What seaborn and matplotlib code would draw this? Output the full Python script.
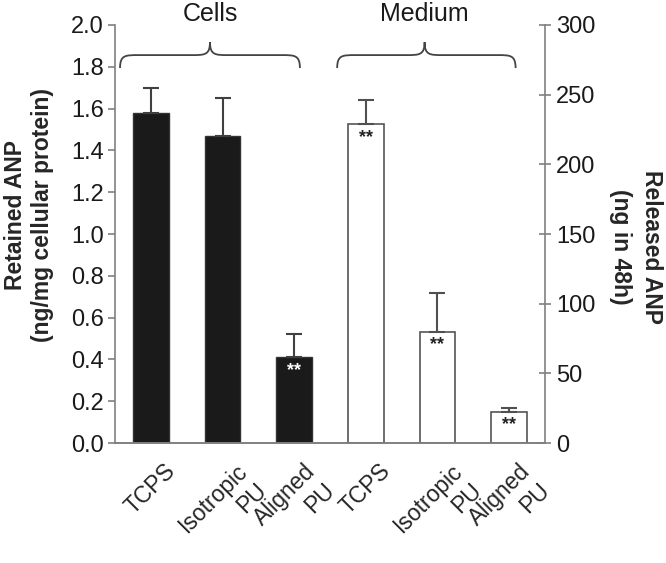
import numpy as np
import pandas as pd
import matplotlib
matplotlib.use("Agg")
import matplotlib.pyplot as plt
import matplotlib.transforms as mtransforms
from matplotlib.path import Path
from matplotlib.patches import PathPatch
import seaborn as sns

# data
keys = ["c_tcps", "c_iso", "c_ali", "m_tcps", "m_iso", "m_ali"]
tick_labels = ["TCPS", "Isotropic\nPU", "Aligned\nPU", "TCPS", "Isotropic\nPU", "Aligned\nPU"]
cells_keys = keys[:3]
cells_vals = [1.58, 1.47, 0.41]
cells_err = [0.12, 0.18, 0.11]
cells_sig = ["", "", "**"]
medium_keys = keys[3:]
medium_vals = [229, 80, 22.5]
medium_err = [17, 28, 2.5]
medium_sig = ["**", "**", "**"]

sns.set_style("white")
plt.rcParams["font.family"] = ["Liberation Sans", "DejaVu Sans"]

fig = plt.figure(figsize=(6.66, 5.63), dpi=100)
ax = fig.add_axes([0.1727, 0.2131, 0.6456, 0.7425])
ax2 = ax.twinx()

dfc = pd.DataFrame({"key": cells_keys, "val": cells_vals})
dfm = pd.DataFrame({"key": medium_keys, "val": medium_vals})

sns.barplot(data=dfc, x="key", y="val", order=keys, color="#1a1a1a",
            saturation=1, width=0.5, errorbar=None, edgecolor="#333333",
            linewidth=1.0, ax=ax)
sns.barplot(data=dfm, x="key", y="val", order=keys, color="white",
            saturation=1, width=0.5, errorbar=None, edgecolor="#555555",
            linewidth=1.2, ax=ax2)

xc = np.array([keys.index(k) for k in cells_keys])
xm = np.array([keys.index(k) for k in medium_keys])
ax.errorbar(xc, cells_vals, yerr=[np.zeros(3), cells_err], fmt="none",
            ecolor="#404040", elinewidth=1.5, capsize=6, capthick=1.5, zorder=1)
ax2.errorbar(xm, medium_vals, yerr=[np.zeros(3), medium_err], fmt="none",
             ecolor="#505050", elinewidth=1.5, capsize=6, capthick=1.5, zorder=1)

for x, v, s in zip(xc, cells_vals, cells_sig):
    if s:
        ax.text(x, v - 0.025, s, ha="center", va="top", color="white",
                fontsize=13, fontweight="bold")
for x, v, s in zip(xm, medium_vals, medium_sig):
    if s:
        ax2.text(x, v - 3.5, s, ha="center", va="top", color="#222222",
                 fontsize=13, fontweight="bold")

ax.set_xlim(-0.5, 5.5)
ax2.set_xlim(-0.5, 5.5)
ax.set_ylim(0, 2.0)
ax2.set_ylim(0, 300)
ax.set_yticks(np.arange(0, 2.01, 0.2))
ax.set_yticklabels([f"{v:.1f}" for v in np.arange(0, 2.01, 0.2)])
ax2.set_yticks(np.arange(0, 301, 50))

ax.set_xticks(range(6))
ax.set_xticklabels(tick_labels, rotation=45, ha="center", va="top",
                   multialignment="right", fontsize=16.5)
ax.set_xticks(np.arange(-0.5, 6, 1), minor=True)
ax.tick_params(axis="x", which="major", length=0, pad=12)
ax.tick_params(axis="x", which="minor", length=5, width=1.2, color="#808080",
               direction="out")
ax.tick_params(axis="y", labelsize=17, length=5, width=1.2, color="#808080",
               direction="out", left=True, pad=3, labelcolor="#1a1a1a")
ax2.tick_params(axis="y", labelsize=17, length=8, width=1.2, color="#808080",
                direction="inout", right=True, pad=4, labelcolor="#1a1a1a")
ax.set_xlabel("")
ax.set_ylabel("Retained ANP\n(ng/mg cellular protein)", fontsize=16.5,
              fontweight="bold", va="center")
ax.yaxis.set_label_coords(-0.200, 0.545)
ax2.set_ylabel("Released ANP\n(ng in 48h)", fontsize=16.5, fontweight="bold",
               rotation=270, va="center", linespacing=1.45)
ax2.yaxis.set_label_coords(1.212, 0.47)
ax2.set_xlabel("")

for a in (ax, ax2):
    a.spines["top"].set_visible(False)
    for sp in ("left", "right", "bottom"):
        a.spines[sp].set_color("#808080")
        a.spines[sp].set_linewidth(1.2)
ax2.spines["left"].set_visible(False)
ax.spines["right"].set_visible(False)

# curly braces over the two groups
trans = mtransforms.blended_transform_factory(ax.transData, ax.transAxes)


def brace(x0, xt, x1, y0=0.897, y1=0.928, y2=0.959):
    d = 0.25
    verts = [(x0, y0), (x0, y1), (x0 + d * 0.3, y1), (x0 + d, y1),
             (xt - d, y1),
             (xt - d * 0.3, y1), (xt, y1), (xt, y2),
             (xt, y1), (xt + d * 0.3, y1), (xt + d, y1),
             (x1 - d, y1),
             (x1 - d * 0.3, y1), (x1, y1), (x1, y0)]
    codes = [Path.MOVETO, Path.CURVE4, Path.CURVE4, Path.CURVE4,
             Path.LINETO,
             Path.CURVE4, Path.CURVE4, Path.CURVE4,
             Path.CURVE4, Path.CURVE4, Path.CURVE4,
             Path.LINETO,
             Path.CURVE4, Path.CURVE4, Path.CURVE4]
    p = PathPatch(Path(verts, codes), transform=trans, fill=False,
                  edgecolor="#444444", linewidth=1.3, clip_on=False)
    ax.add_patch(p)


brace(-0.43, 0.825, 2.08)
brace(2.60, 3.82, 5.09)
ax.text(0.825, 1.026, "Cells", transform=trans, ha="center", va="center",
        fontsize=18, color="#1a1a1a")
ax.text(3.82, 1.026, "Medium", transform=trans, ha="center", va="center",
        fontsize=18, color="#1a1a1a")

fig.savefig("out.png", dpi=100)
